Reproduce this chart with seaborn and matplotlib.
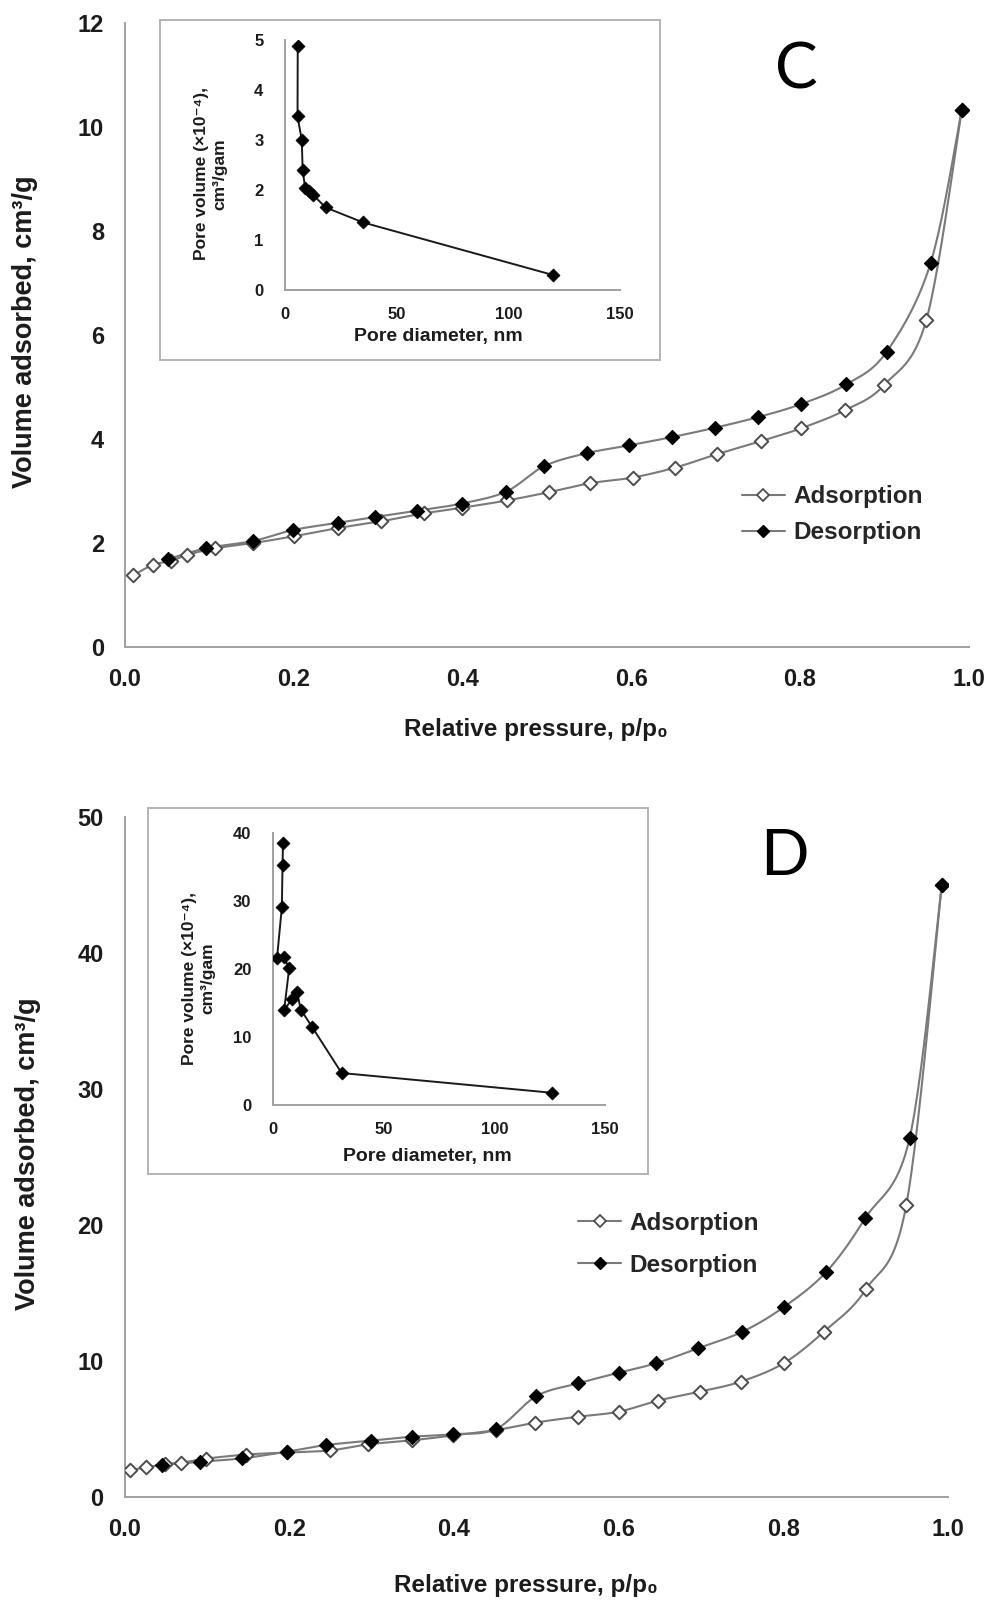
import numpy as np
import matplotlib
matplotlib.use("Agg")
import matplotlib.pyplot as plt
from matplotlib.lines import Line2D
import seaborn as sns

# ---- Isotherm data, sample C ----
c_ads_p = [0.01, 0.033, 0.055, 0.073, 0.107, 0.152, 0.2, 0.253, 0.304, 0.354, 0.4, 0.453,
           0.503, 0.551, 0.602, 0.652, 0.702, 0.754, 0.802, 0.853, 0.9, 0.95, 0.992]
c_ads_v = [1.38, 1.58, 1.66, 1.77, 1.9, 2.0, 2.13, 2.29, 2.42, 2.57, 2.68, 2.82,
           2.98, 3.15, 3.26, 3.45, 3.71, 3.96, 4.21, 4.55, 5.04, 6.29, 10.33]
c_des_p = [0.051, 0.096, 0.152, 0.199, 0.253, 0.296, 0.346, 0.399, 0.452, 0.497,
           0.548, 0.598, 0.649, 0.7, 0.75, 0.801, 0.855, 0.903, 0.955, 0.992]
c_des_v = [1.69, 1.9, 2.04, 2.25, 2.39, 2.5, 2.62, 2.76, 2.99, 3.48,
           3.73, 3.88, 4.04, 4.22, 4.42, 4.67, 5.05, 5.68, 7.38, 10.33]

# ---- Pore size distribution, sample C ----
c_pore_d = [5.7, 5.6, 7.5, 7.9, 9.0, 10.8, 12.6, 18.2, 35, 120]
c_pore_v = [4.87, 3.47, 3.0, 2.4, 2.04, 1.97, 1.9, 1.65, 1.35, 0.3]

# ---- Isotherm data, sample D ----
d_ads_p = [0.006, 0.026, 0.049, 0.069, 0.099, 0.148, 0.197, 0.249, 0.296, 0.349, 0.399, 0.451,
           0.498, 0.55, 0.6, 0.647, 0.698, 0.748, 0.8, 0.849, 0.9, 0.949, 0.992]
d_ads_v = [1.95, 2.15, 2.4, 2.5, 2.8, 3.1, 3.25, 3.4, 3.85, 4.15, 4.5, 4.9,
           5.44, 5.88, 6.25, 7.06, 7.72, 8.46, 9.81, 12.13, 15.25, 21.45, 44.98]
d_des_p = [0.045, 0.092, 0.143, 0.197, 0.245, 0.299, 0.349, 0.399, 0.451, 0.5,
           0.551, 0.6, 0.645, 0.696, 0.75, 0.8, 0.852, 0.899, 0.953, 0.992]
d_des_v = [2.33, 2.57, 2.82, 3.31, 3.8, 4.12, 4.41, 4.59, 4.98, 7.4,
           8.34, 9.12, 9.81, 10.91, 12.13, 13.93, 16.54, 20.47, 26.35, 44.98]

# ---- Pore size distribution, sample D ----
d_pore_d = [4.5, 4.3, 4.0, 1.8, 4.8, 7.3, 5.0, 8.5, 10.8, 12.6, 17.6, 31, 126]
d_pore_v = [38.5, 35.3, 29.1, 21.6, 21.8, 20.1, 13.9, 15.6, 16.6, 14.0, 11.5, 4.7, 1.8]

x_ticks = [0.0, 0.2, 0.4, 0.6, 0.8, 1.0]
c_yticks = [0, 2, 4, 6, 8, 10, 12]
d_yticks = [0, 10, 20, 30, 40, 50]
pore_xticks = [0, 50, 100, 150]
c_pore_yticks = [0, 1, 2, 3, 4, 5]
d_pore_yticks = [0, 10, 20, 30, 40]

sns.set_theme(style="white")
FONT = ["Liberation Sans", "DejaVu Sans"]
plt.rcParams["font.family"] = FONT
plt.rcParams["font.weight"] = "bold"

AX_GRAY = "#a0a0a0"
LINE_GRAY = "#7a7a7a"
TXT = "#1c1c1c"


def smooth_curve(x, y, sx, sy, n=24):
    """Catmull-Rom curve through the points (spreadsheet-style smoothed line)."""
    P = np.column_stack([np.asarray(x, float) * sx, np.asarray(y, float) * sy])
    pad = np.vstack([P[0], P, P[-1]])
    t = np.linspace(0, 1, n, endpoint=False)[:, None]
    segs = []
    for i in range(len(P) - 1):
        p0, p1, p2, p3 = pad[i], pad[i + 1], pad[i + 2], pad[i + 3]
        segs.append(0.5 * (2 * p1 + (-p0 + p2) * t
                           + (2 * p0 - 5 * p1 + 4 * p2 - p3) * t ** 2
                           + (-p0 + 3 * p1 - 3 * p2 + p3) * t ** 3))
    segs.append(P[-1:])
    out = np.vstack(segs)
    return out[:, 0] / sx, out[:, 1] / sy


def style_axes(ax, xpad, ypad, label_size):
    for side in ("top", "right"):
        ax.spines[side].set_visible(False)
    for side in ("left", "bottom"):
        ax.spines[side].set_color(AX_GRAY)
        ax.spines[side].set_linewidth(1.4)
    ax.tick_params(direction="in", length=4, width=1, color=AX_GRAY,
                   labelsize=label_size, labelcolor=TXT)
    ax.tick_params(axis="x", pad=xpad)
    ax.tick_params(axis="y", pad=ypad)
    for lab in ax.get_xticklabels() + ax.get_yticklabels():
        lab.set_fontweight("bold")
    ax.set_facecolor("none")


def isotherm(ax, ads_p, ads_v, des_p, des_v, ymax, yticks, w_px, h_px, ylab_x):
    sx, sy = w_px, h_px / ymax
    for p, v in ((ads_p, ads_v), (des_p, des_v)):
        cx, cy = smooth_curve(p, v, sx, sy)
        sns.lineplot(x=cx, y=cy, sort=False, estimator=None, color=LINE_GRAY,
                     linewidth=1.5, ax=ax, zorder=2)
    sns.scatterplot(x=ads_p, y=ads_v, marker="D", s=48, color="white",
                    edgecolor="#4d4d4d", linewidth=1.4, ax=ax, zorder=3)
    sns.scatterplot(x=des_p, y=des_v, marker="D", s=52, color="black",
                    edgecolor="black", linewidth=0.8, ax=ax, zorder=4)
    ax.set_xlim(0, 1)
    ax.set_ylim(0, ymax)
    ax.set_xticks(x_ticks)
    ax.set_xticklabels([f"{t:.1f}" for t in x_ticks])
    ax.set_yticks(yticks)
    style_axes(ax, 15, 15, 17)
    ax.set_xlabel("Relative pressure, p/p\u2080", fontsize=17.5, fontweight="bold", color=TXT)
    ax.set_ylabel("Volume adsorbed, cm\u00b3/g", fontsize=19.5, fontweight="bold", color=TXT)
    ax.xaxis.set_label_coords(0.487, -0.114)
    ax.yaxis.set_label_coords(ylab_x, 0.505)


def pore_inset(fig, box_rect, ax_rect, d, v, ymax, yticks, xlab, ylab_x):
    box = fig.add_axes(box_rect)
    box.set_xticks([])
    box.set_yticks([])
    box.set_facecolor("white")
    for s in box.spines.values():
        s.set_visible(True)
        s.set_color("#b4b4b4")
        s.set_linewidth(1.4)
    ax = fig.add_axes(ax_rect)
    sns.lineplot(x=d, y=v, sort=False, estimator=None, color="#1a1a1a",
                 linewidth=1.4, ax=ax)
    sns.scatterplot(x=d, y=v, marker="D", s=44, color="black", edgecolor="black",
                    linewidth=0.5, ax=ax, zorder=3)
    ax.set_xlim(0, 150)
    ax.set_ylim(0, ymax)
    ax.set_xticks(pore_xticks)
    ax.set_yticks(yticks)
    style_axes(ax, 12, 15.5, 12)
    ax.set_xlabel("Pore diameter, nm", fontsize=14, fontweight="bold", color=TXT)
    ax.set_ylabel("Pore volume (\u00d710\u207b\u2074),\ncm\u00b3/gam", fontsize=12.5,
                  fontweight="bold", color=TXT, linespacing=1.25)
    ax.xaxis.set_label_coords(xlab[0], xlab[1])
    ax.yaxis.set_label_coords(ylab_x, 0.465)
    return ax


fig = plt.figure(figsize=(9.91, 16.04), dpi=100)
fig.patch.set_facecolor("white")

# Panel C
axC = fig.add_axes([0.1261, 0.5966, 0.8512, 0.3890])
isotherm(axC, c_ads_p, c_ads_v, c_des_p, c_des_v, 12, c_yticks, 843.5, 624, -0.103)

# Panel D
axD = fig.add_axes([0.1257, 0.0669, 0.8312, 0.4239])
isotherm(axD, d_ads_p, d_ads_v, d_des_p, d_des_v, 50, d_yticks, 823.7, 680, -0.1015)

# Pore size insets
pore_inset(fig, [0.1615, 0.7756, 0.5045, 0.2120], [0.2876, 0.8192, 0.3380, 0.1559],
           c_pore_d, c_pore_v, 5, c_pore_yticks, (0.457, -0.152), -0.173)
pore_inset(fig, [0.1493, 0.2681, 0.5045, 0.2282], [0.2755, 0.3111, 0.3350, 0.1696],
           d_pore_d, d_pore_v, 40, d_pore_yticks, (0.464, -0.158), -0.175)

# Legends
handles = [
    Line2D([], [], color=LINE_GRAY, lw=1.5, marker="D", markersize=6,
           markerfacecolor="white", markeredgecolor="#4d4d4d", markeredgewidth=1.3),
    Line2D([], [], color=LINE_GRAY, lw=1.5, marker="D", markersize=6.3,
           markerfacecolor="black", markeredgecolor="black"),
]
labels = ["Adsorption", "Desorption"]
legend_font = {"family": FONT, "weight": "bold", "size": 17.5}
fig.legend(handles, labels, loc="center left", bbox_to_anchor=(0.7487, 0.679),
           frameon=False, borderpad=0, borderaxespad=0, handlelength=1.77,
           handletextpad=0.33, labelspacing=0.53, prop=legend_font)
fig.legend(handles, labels, loc="center left", bbox_to_anchor=(0.5833, 0.2244),
           frameon=False, borderpad=0, borderaxespad=0, handlelength=1.77,
           handletextpad=0.33, labelspacing=0.78, prop=legend_font)

# Panel letters
fig.text(0.804, 0.956, "C", fontsize=46, fontweight="normal", color="black",
         ha="center", va="center", family=["Lato", "DejaVu Sans"])
fig.text(0.792, 0.466, "D", fontsize=46, fontweight="normal", color="black",
         ha="center", va="center", family=["Lato", "DejaVu Sans"])

fig.savefig("out.png", dpi=100, facecolor="white")
